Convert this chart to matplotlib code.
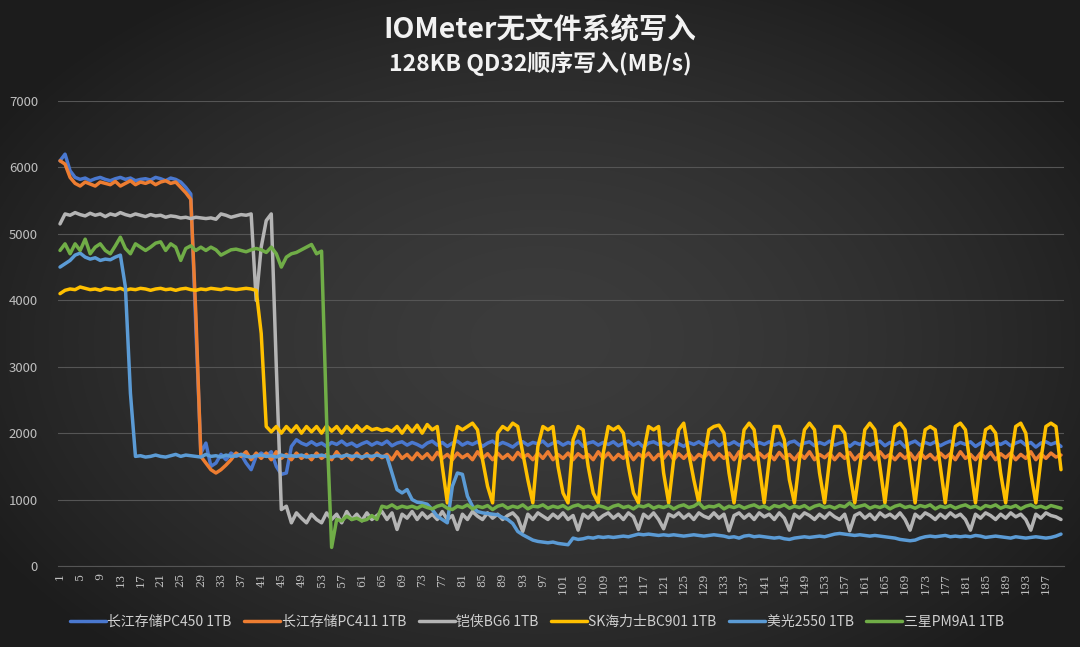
import numpy as np
import matplotlib
matplotlib.use("Agg")
import matplotlib.pyplot as plt

plt.rcParams["font.family"] = ["Noto Sans CJK SC", "DejaVu Sans"]

# ---- data (MB/s per sample) ----
title = "IOMeter无文件系统写入"
subtitle = "128KB QD32顺序写入(MB/s)"

names = ["长江存储PC450 1TB", "长江存储PC411 1TB", "铠侠BG6 1TB",
         "SK海力士BC901 1TB", "美光2550 1TB", "三星PM9A1 1TB"]

pc450 = [
    6100, 6200, 5950, 5850, 5820, 5840, 5800, 5830, 5850, 5820,
    5800, 5830, 5850, 5820, 5840, 5800, 5820, 5830, 5810, 5850,
    5830, 5800, 5840, 5820, 5780, 5700, 5600, 3600, 1700, 1850,
    1500, 1550, 1680, 1600, 1700, 1650, 1680, 1550, 1450, 1650,
    1700, 1650, 1720, 1500, 1380, 1400, 1800, 1900, 1850, 1820,
    1870, 1820, 1850, 1800, 1860, 1830, 1880, 1820, 1850, 1800,
    1840, 1870, 1820, 1860, 1830, 1880, 1810, 1850, 1870, 1820,
    1860, 1830, 1790, 1850, 1880, 1820, 1860, 1800, 1850, 1880,
    1820, 1860, 1830, 1870, 1800, 1850, 1880, 1820, 1860, 1830,
    1790, 1850, 1870, 1820, 1860, 1840, 1880, 1810, 1850, 1870,
    1820, 1860, 1830, 1880, 1800, 1850, 1870, 1820, 1860, 1830,
    1870, 1810, 1850, 1880, 1820, 1860, 1790, 1850, 1870, 1830,
    1860, 1820, 1880, 1840, 1800, 1860, 1830, 1870, 1820, 1850,
    1880, 1810, 1860, 1830, 1870, 1820, 1850, 1880, 1800, 1860,
    1830, 1870, 1820, 1850, 1790, 1860, 1880, 1820, 1850, 1870,
    1810, 1860, 1830, 1880, 1820, 1850, 1870, 1800, 1860, 1830,
    1870, 1820, 1850, 1880, 1810, 1860, 1830, 1870, 1790, 1850,
    1880, 1820, 1860, 1830, 1870, 1810, 1850, 1880, 1820, 1860,
    1830, 1870, 1800, 1850, 1880, 1820, 1860, 1830, 1870, 1810,
    1850, 1880, 1820, 1860, 1790, 1850, 1870, 1830, 1860, 1800,
]

pc411 = [
    6100, 6050, 5850, 5760, 5720, 5780, 5750, 5720, 5780, 5760,
    5740, 5790, 5720, 5760, 5800, 5740, 5780, 5760, 5790, 5740,
    5780, 5800, 5760, 5780, 5700, 5620, 5520, 3800, 1650, 1550,
    1450, 1400, 1450, 1520, 1600, 1700, 1650, 1720, 1600, 1700,
    1620, 1700, 1600, 1720, 1620, 1680, 1600, 1700, 1620, 1680,
    1600, 1700, 1620, 1680, 1600, 1720, 1620, 1680, 1600, 1700,
    1620, 1690, 1600, 1700, 1630, 1680, 1600, 1720, 1620, 1680,
    1600, 1700, 1620, 1690, 1600, 1710, 1620, 1680, 1600, 1700,
    1630, 1680, 1600, 1720, 1620, 1690, 1600, 1700, 1620, 1680,
    1600, 1710, 1630, 1680, 1600, 1700, 1620, 1720, 1600, 1680,
    1620, 1700, 1600, 1690, 1630, 1680, 1600, 1720, 1620, 1700,
    1600, 1680, 1620, 1710, 1600, 1690, 1630, 1700, 1600, 1680,
    1620, 1720, 1600, 1690, 1620, 1700, 1600, 1680, 1630, 1710,
    1600, 1690, 1620, 1700, 1600, 1720, 1620, 1680, 1600, 1700,
    1630, 1690, 1600, 1710, 1620, 1680, 1600, 1700, 1620, 1720,
    1600, 1680, 1630, 1700, 1600, 1690, 1620, 1710, 1600, 1680,
    1620, 1700, 1600, 1720, 1630, 1680, 1600, 1690, 1620, 1700,
    1600, 1710, 1620, 1680, 1600, 1700, 1630, 1690, 1600, 1720,
    1620, 1680, 1600, 1700, 1620, 1710, 1600, 1690, 1630, 1700,
    1600, 1680, 1620, 1720, 1600, 1690, 1620, 1700, 1640, 1670,
]

bg6 = [
    5150, 5300, 5280, 5320, 5290, 5270, 5310, 5280, 5300, 5260,
    5300, 5280, 5320, 5290, 5270, 5300, 5280, 5260, 5290, 5270,
    5280, 5250, 5270, 5260, 5240, 5250, 5230, 5250, 5240, 5230,
    5240, 5220, 5300, 5280, 5250, 5270, 5290, 5280, 5300, 4000,
    4800, 5200, 5300, 3000, 850, 900, 650, 800, 720, 650,
    780, 700, 650, 800, 700, 780, 650, 820, 700, 780,
    680, 800, 700, 760, 820, 700, 800, 550, 780, 720,
    820, 700, 800, 720, 780, 700, 820, 700, 760, 550,
    780, 700, 820, 750, 700, 800, 720, 780, 700, 760,
    800, 720, 520, 780, 700, 800, 750, 700, 780, 720,
    800, 700, 760, 540, 780, 720, 800, 700, 760, 800,
    720, 780, 700, 800, 740, 550, 780, 720, 800, 700,
    560, 780, 740, 800, 720, 780, 700, 800, 750, 720,
    800, 720, 780, 530, 760, 800, 720, 780, 700, 800,
    740, 780, 700, 800, 720, 540, 780, 720, 800, 760,
    700, 780, 720, 800, 740, 700, 780, 530, 760, 800,
    720, 780, 700, 800, 740, 780, 720, 800, 700, 540,
    780, 720, 800, 760, 700, 780, 720, 800, 740, 780,
    700, 540, 780, 720, 800, 760, 700, 780, 720, 800,
    740, 780, 700, 540, 780, 720, 800, 760, 740, 700,
]

bc901 = [
    4100, 4150, 4170, 4160, 4200, 4180, 4160, 4170, 4150, 4180,
    4170, 4160, 4180, 4150, 4170, 4160, 4180, 4170, 4150, 4170,
    4180, 4160, 4170, 4150, 4170, 4180, 4160, 4150, 4170, 4160,
    4180, 4170, 4160, 4180, 4170, 4160, 4170, 4180, 4170, 4150,
    3500, 2100, 2020, 2100, 2000, 2100, 2020, 2110, 2000, 2100,
    2020, 2100, 2000, 2110, 2030, 2100, 2000, 2100, 2020, 2110,
    2030, 2100, 2050, 2070, 2040, 2060, 2030, 2100, 2000, 2110,
    2020, 2120, 2000, 2130, 2050, 2100, 1500, 950, 1700, 2100,
    2050, 2100, 2150, 2050, 1600, 1200, 950, 2000, 2100, 2050,
    2150, 2100, 1700, 1300, 950, 1800, 2100, 2050, 2100, 1500,
    1100, 950, 1900, 2100, 2050, 1500, 1100, 950, 1700, 2100,
    2050, 2100, 2000, 1500, 1100, 950, 1700, 2100, 2050, 2100,
    1400, 950, 1600, 2050, 2150, 1700, 1300, 950, 1600, 2050,
    2100, 2120, 2000, 1400, 950, 1500, 2050, 2150, 2050, 1500,
    950, 1600, 2100, 2100, 1900, 1300, 950, 1600, 2050, 2150,
    2050, 1400, 950, 1600, 2100, 2100, 2000, 1400, 950, 1500,
    2050, 2150, 2050, 1500, 950, 1600, 2100, 2150, 2050, 1500,
    950, 1600, 2050, 2100, 2050, 1500, 950, 1600, 2100, 2150,
    2050, 1500, 950, 1600, 2050, 2100, 2000, 1400, 950, 1600,
    2100, 2150, 2000, 1400, 950, 1600, 2100, 2150, 2100, 1450,
]

m2550 = [
    4500, 4550, 4600, 4680, 4710, 4650, 4620, 4640, 4600, 4620,
    4610, 4650, 4680, 4200, 2600, 1650, 1660, 1640, 1650, 1670,
    1650, 1640, 1660, 1680, 1650, 1670, 1660, 1650, 1640, 1680,
    1650, 1660, 1640, 1670, 1650, 1660, 1680, 1650, 1640, 1660,
    1670, 1650, 1660, 1640, 1670, 1650, 1660, 1650, 1670, 1640,
    1660, 1650, 1670, 1650, 1640, 1660, 1650, 1670, 1650, 1660,
    1640, 1660, 1650, 1670, 1650, 1650, 1400, 1150, 1100, 1150,
    1000, 960, 950, 930, 850, 750, 700, 650, 1200, 1400,
    1380, 1050, 900, 820, 800, 790, 780, 770, 730, 700,
    640, 520, 470, 430, 390, 370, 360, 350, 360, 340,
    330, 320, 420, 400, 410, 430, 420, 440, 430, 440,
    430, 440, 450, 440, 460, 480, 470, 480, 470, 460,
    470, 460, 470, 460, 450, 460, 470, 460, 450, 460,
    470, 460, 450, 430, 440, 420, 450, 460, 440, 450,
    440, 430, 420, 430, 410, 400, 420, 430, 440, 430,
    440, 450, 440, 460, 480, 490, 480, 470, 460, 470,
    460, 450, 460, 450, 440, 430, 420, 400, 390, 380,
    390, 420, 440, 450, 440, 450, 460, 440, 450, 440,
    450, 440, 460, 450, 430, 440, 450, 440, 430, 420,
    440, 430, 420, 430, 440, 430, 420, 430, 450, 480,
]

pm9a1 = [
    4750, 4850, 4700, 4850, 4750, 4920, 4700, 4800, 4850, 4750,
    4700, 4820, 4950, 4780, 4700, 4850, 4800, 4750, 4800, 4860,
    4880, 4750, 4850, 4800, 4600, 4780, 4820, 4750, 4800, 4750,
    4800, 4760, 4680, 4720, 4760, 4770, 4750, 4730, 4760, 4780,
    4760, 4720, 4800, 4700, 4500, 4650, 4700, 4720, 4760, 4800,
    4840, 4700, 4740, 2200, 280, 700, 680, 750, 700, 720,
    680, 700, 760, 700, 900, 880, 920, 870, 900, 880,
    900, 870, 910, 880, 860, 900, 920, 870, 850, 900,
    880, 920, 860, 900, 880, 910, 850, 900, 920, 870,
    900, 880, 920, 860, 900, 890, 920, 870, 900, 880,
    910, 860, 900, 920, 880, 900, 870, 910, 890, 860,
    900, 920, 880, 900, 860, 910, 890, 920, 870, 900,
    880, 910, 860, 900, 920, 880, 900, 950, 870, 900,
    890, 920, 860, 900, 880, 910, 870, 900, 920, 880,
    900, 860, 910, 890, 920, 870, 900, 880, 910, 860,
    900, 920, 880, 900, 870, 910, 890, 950, 880, 900,
    920, 870, 900, 880, 910, 860, 900, 920, 880, 900,
    870, 910, 890, 920, 860, 900, 880, 910, 870, 900,
    920, 880, 900, 860, 910, 890, 920, 870, 900, 880,
    910, 860, 900, 920, 880, 900, 870, 910, 890, 870,
]

series = [pc450, pc411, bg6, bc901, m2550, pm9a1]
colors = ["#4a78cf", "#ed7d31", "#b4b4b4", "#ffc000", "#5b9bd5", "#70ad47"]

# ---- figure ----
W, H = 1080, 647
fig = plt.figure(figsize=(W / 100, H / 100), dpi=100)

# dark radial background like the Excel theme
bg = fig.add_axes([0, 0, 1, 1], zorder=-10)
yy, xx = np.mgrid[0:H, 0:W]
r = np.sqrt(((xx - 540) / 640.0) ** 2 + ((yy - 340) / 420.0) ** 2)
r = np.clip(r, 0, 1)
val = 0.235 - 0.125 * r ** 1.6
img = np.dstack([val, val, val])
bg.imshow(img, extent=[0, 1, 0, 1], aspect="auto", origin="upper")
bg.axis("off")

ax = fig.add_axes([57.5 / W, 1 - 566 / H, (1063.5 - 57.5) / W, (566 - 101) / H])
ax.set_facecolor("none")

for s, name, c in zip(series, names, colors):
    ax.plot(np.arange(1, len(s) + 1), s, color=c, lw=2.5, label=name,
            solid_joinstyle="round", solid_capstyle="round")

ax.set_xlim(0.5, 200.5)
ax.set_ylim(0, 7000)
ax.set_yticks(range(0, 7001, 1000))
ax.set_xticks(range(1, 200, 4))
ax.set_xticklabels([str(i) for i in range(1, 200, 4)], rotation=90)
ax.grid(axis="y", color="#555555", lw=0.8)
ax.set_axisbelow(True)
for sp in ["top", "right", "left"]:
    ax.spines[sp].set_visible(False)
ax.spines["bottom"].set_color("#555555")
ax.tick_params(axis="y", length=0, pad=14, labelsize=9.5, labelcolor="#bfbfbf")
ax.tick_params(axis="x", length=0, pad=5, labelsize=8, labelcolor="#bfbfbf")
for t in ax.get_xticklabels():
    t.set_family(["DejaVu Serif"])

fig.text(0.5, 1 - 30 / H, title, ha="center", va="center", fontsize=20.5,
         fontweight="bold", color="#f2f2f2")
fig.text(0.5, 1 - 64 / H, subtitle, ha="center", va="center", fontsize=16.5,
         fontweight="bold", color="#f2f2f2")

fig.legend(loc="center", bbox_to_anchor=(0.497, 1 - 622 / H), ncol=6, frameon=False,
           handlelength=2.6, handletextpad=0.1, columnspacing=0.9,
           fontsize=10, labelcolor="#d0d0d0")

fig.savefig("out.png", dpi=100)
